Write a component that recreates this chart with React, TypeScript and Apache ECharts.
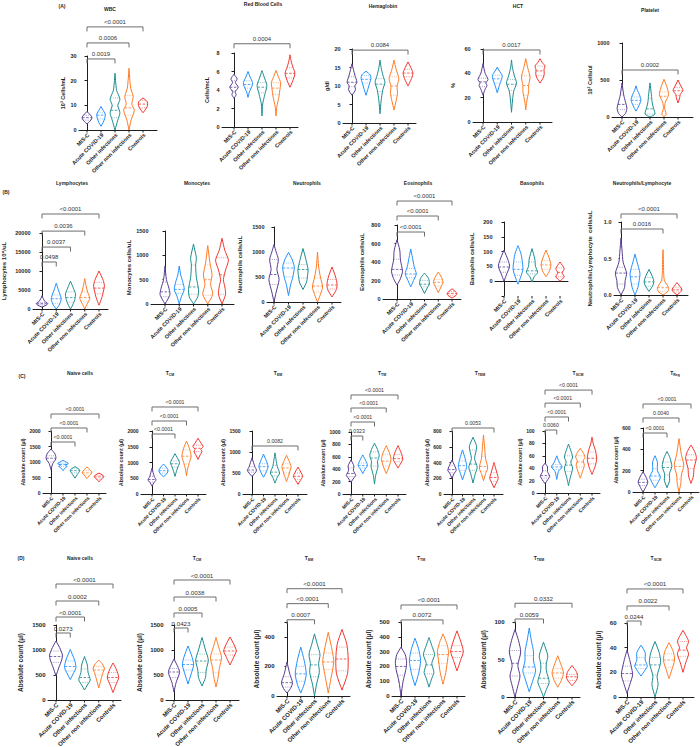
import React, { useEffect, useRef } from 'react';
import * as echarts from 'echarts';

const GROUPS = ['MIS-C', 'Acute COVID-19', 'Other infections', 'Other non infections', 'Controls'];
const COLORS = ['#563a90', '#1f8fff', '#1b8c8f', '#ff7a22', '#f4332c'];
const FONT = 'Liberation Sans, Arial, sans-serif';

// ---------- Panel A ----------
const wbcShapes = [
  [[2.5, 0], [3.5, 0.2], [4.5, 0.33], [5.2, 0.35], [6, 0.25], [7.5, 0]],
  [[1.5, 0], [3, 0.15], [5, 0.28], [6.5, 0.3], [8, 0.15], [9.5, 0]],
  [[0, 0], [4, 0.2], [7, 0.35], [10, 0.2], [12.5, 0.35], [16, 0.12], [20, 0.04], [23, 0]],
  [[0, 0], [4, 0.15], [8, 0.38], [10.5, 0.2], [13.5, 0.3], [17, 0.12], [21, 0.05], [25, 0]],
  [[7, 0], [8.5, 0.2], [10, 0.33], [11.5, 0.3], [13, 0]],
];
const wbcQuart = [[4, 5, 6], [4.5, 6, 7], [5, 8, 13], [6, 9, 14], [9, 10.5, 12]];
const wbcTests = [[0, 2, '0.0019', 28.8], [0, 3, '0.0006', 35.3], [0, 4, '<0.0001', 41.8]];

const rbcShapes = [
  [[3.1, 0], [3.5, 0.15], [3.8, 0.08], [4.3, 0.3], [4.8, 0.1], [5.2, 0.22], [5.7, 0]],
  [[3.2, 0], [3.8, 0.1], [4.4, 0.28], [4.8, 0.33], [5.4, 0.15], [6, 0]],
  [[1.2, 0], [2.5, 0.05], [3.5, 0.2], [4.5, 0.35], [5.2, 0.2], [6.1, 0]],
  [[1.2, 0], [2.2, 0.06], [3.2, 0.2], [4.3, 0.3], [4.8, 0.33], [5.5, 0.15], [6.1, 0]],
  [[4.3, 0], [5, 0.2], [5.8, 0.35], [6.5, 0.2], [7, 0.1], [7.8, 0]],
];
const rbcQuart = [[3.9, 4.3, 5], [4.2, 4.6, 5], [3.7, 4.3, 4.8], [3.5, 4.2, 4.8], [5.3, 5.8, 6.4]];
const rbcTests = [[0, 4, '0.0004', 9.0]];

const hgbShapes = [
  [[7.5, 0], [9, 0.25], [10, 0.2], [11, 0.35], [13, 0.2], [16, 0]],
  [[7.5, 0], [9, 0.12], [11, 0.28], [12, 0.35], [13, 0.3], [14, 0]],
  [[2.5, 0], [6, 0.08], [9, 0.2], [11, 0.35], [13, 0.2], [15, 0.08], [17, 0]],
  [[3.5, 0], [6, 0.15], [8, 0.25], [10, 0.22], [12, 0.35], [14.5, 0.15], [17, 0]],
  [[10, 0], [12, 0.25], [13.5, 0.35], [15, 0.2], [16.5, 0]],
];
const hgbQuart = [[9.8, 11, 12.5], [10.8, 11.8, 12.8], [8.5, 10.5, 12], [7.5, 10, 12.5], [12.5, 13.5, 14.5]];
const hgbTests = [[0, 4, '0.0084', 19.7]];

const hctShapes = [
  [[22, 0], [27, 0.15], [30, 0.28], [32, 0.2], [35, 0.35], [40, 0.15], [48, 0]],
  [[24, 0], [30, 0.15], [35, 0.3], [38, 0.35], [42, 0.15], [45, 0]],
  [[8, 0], [15, 0.05], [25, 0.15], [32, 0.35], [38, 0.2], [45, 0.06], [51, 0]],
  [[10, 0], [17, 0.07], [25, 0.2], [30, 0.2], [37, 0.3], [44, 0.15], [52, 0]],
  [[32, 0], [37, 0.25], [40, 0.3], [43, 0.28], [46, 0.35], [49, 0.15], [52, 0]],
];
const hctQuart = [[29, 33, 36], [32, 35.5, 38.5], [26, 31, 35], [22, 30, 38], [38, 42, 46]];
const hctTests = [[0, 4, '0.0017', 59.2]];

const pltShapes = [
  [[0, 0], [50, 0.25], [120, 0.35], [200, 0.25], [300, 0.12], [460, 0]],
  [[80, 0], [150, 0.2], [230, 0.35], [300, 0.25], [360, 0.1], [420, 0]],
  [[0, 0], [40, 0.35], [120, 0.25], [200, 0.15], [300, 0.1], [460, 0]],
  [[0, 0], [40, 0.15], [120, 0.04], [200, 0.1], [300, 0.33], [380, 0.25], [510, 0]],
  [[190, 0], [260, 0.12], [300, 0.15], [360, 0.35], [420, 0.2], [500, 0]],
];
const pltQuart = [[100, 170, 300], [170, 225, 270], [40, 110, 250], [80, 280, 340], [290, 355, 400]];
const pltTests = [[0, 4, '0.0002', 635]];

// ---------- Panel B ----------
const lymShapes = [
  [[500, 0], [1000, 0.3], [1500, 0.4], [2000, 0.2], [2800, 0.08], [3500, 0]],
  [[0, 0], [1000, 0.2], [2500, 0.35], [3500, 0.3], [5000, 0.15], [6800, 0]],
  [[0, 0], [1000, 0.15], [2500, 0.3], [4000, 0.35], [5500, 0.2], [7300, 0]],
  [[0, 0], [1200, 0.15], [2800, 0.35], [4500, 0.2], [6000, 0.1], [8000, 0]],
  [[1000, 0], [3000, 0.2], [4500, 0.3], [6000, 0.38], [7500, 0.3], [10000, 0]],
];
const lymQuart = [[1100, 1400, 1700], [1500, 2700, 3700], [1800, 3000, 4500], [2000, 3000, 4500], [4000, 5500, 7000]];
const lymTests = [[0, 1, '0.0498', 12370], [0, 2, '0.0037', 16300], [0, 3, '0.0036', 20500], [0, 4, '<0.0001', 25000]];

const monoShapes = [
  [[0, 0], [100, 0.2], [200, 0.35], [350, 0.25], [500, 0.1], [780, 0]],
  [[0, 0], [150, 0.15], [300, 0.35], [450, 0.25], [600, 0.1], [780, 0]],
  [[0, 0], [150, 0.3], [300, 0.35], [550, 0.2], [800, 0.15], [950, 0.2], [1230, 0]],
  [[0, 0], [200, 0.35], [400, 0.2], [600, 0.3], [850, 0.15], [1200, 0]],
  [[0, 0], [200, 0.25], [350, 0.2], [500, 0.1], [700, 0.25], [900, 0.45], [1100, 0.2], [1350, 0]],
];
const monoQuart = [[150, 250, 450], [220, 300, 400], [200, 350, 800], [180, 500, 800], [200, 600, 950]];
const monoTests: any[] = [];

const neutShapes = [
  [[0, 0], [200, 0.15], [450, 0.35], [650, 0.2], [850, 0.3], [1000, 0.15], [1150, 0]],
  [[130, 0], [350, 0.15], [500, 0.3], [700, 0.4], [850, 0.25], [990, 0]],
  [[250, 0], [400, 0.25], [500, 0.3], [650, 0.35], [850, 0.2], [1070, 0]],
  [[0, 0], [150, 0.2], [300, 0.35], [500, 0.2], [700, 0.08], [1000, 0]],
  [[100, 0], [250, 0.3], [350, 0.35], [500, 0.25], [700, 0]],
];
const neutQuart = [[350, 550, 850], [500, 680, 780], [480, 650, 750], [200, 320, 480], [260, 340, 450]];
const neutTests: any[] = [];

const eosShapes = [
  [[150, 0], [220, 0.25], [300, 0.4], [420, 0.25], [530, 0.2], [640, 0]],
  [[130, 0], [200, 0.2], [270, 0.4], [350, 0.25], [450, 0.12], [540, 0]],
  [[60, 0], [120, 0.2], [160, 0.35], [220, 0.3], [280, 0]],
  [[70, 0], [130, 0.2], [180, 0.35], [230, 0.25], [290, 0]],
  [[10, 0], [40, 0.3], [60, 0.35], [80, 0.25], [110, 0]],
];
const eosQuart = [[260, 320, 430], [230, 270, 330], [130, 160, 200], [140, 180, 210], [40, 60, 80]];
const eosTests = [[0, 2, '<0.0001', 724], [0, 3, '<0.0001', 897], [0, 4, '<0.0001', 1059]];

const basoShapes = [
  [[0, 0], [25, 0.2], [50, 0.4], [70, 0.3], [105, 0]],
  [[-10, 0], [15, 0.2], [40, 0.35], [70, 0.3], [95, 0.2], [120, 0]],
  [[-3, 0], [15, 0.15], [30, 0.4], [50, 0.25], [75, 0.2], [110, 0]],
  [[15, 0], [35, 0.25], [55, 0.35], [75, 0.25], [105, 0]],
  [[0, 0], [15, 0.3], [28, 0.15], [42, 0.3], [65, 0]],
];
const basoQuart = [[30, 48, 65], [20, 40, 65], [25, 35, 65], [40, 55, 70], [15, 30, 45]];
const basoTests: any[] = [];

const nlShapes = [
  [[0, 0], [0.1, 0.25], [0.2, 0.3], [0.3, 0.4], [0.45, 0.15], [0.6, 0.08], [0.78, 0]],
  [[0, 0], [0.1, 0.2], [0.2, 0.3], [0.3, 0.35], [0.45, 0.15], [0.56, 0]],
  [[0.05, 0], [0.12, 0.25], [0.18, 0.35], [0.25, 0.25], [0.35, 0]],
  [[0, 0], [0.05, 0.35], [0.1, 0.4], [0.2, 0.1], [0.3, 0.05], [0.45, 0.03], [0.62, 0]],
  [[0, 0], [0.05, 0.3], [0.08, 0.35], [0.12, 0.2], [0.17, 0]],
];
const nlQuart = [[0.15, 0.3, 0.38], [0.15, 0.25, 0.35], [0.12, 0.18, 0.24], [0.05, 0.1, 0.2], [0.04, 0.07, 0.1]];
const nlTests = [[0, 3, '0.0016', 0.904], [0, 4, '<0.0001', 1.11]];

// ---------- Panel C ----------
const cNaiveShapes = [
  [[750, 0], [950, 0.15], [1100, 0.4], [1250, 0.35], [1420, 0]],
  [[720, 0], [800, 0.15], [860, 0.35], [900, 0.2], [950, 0.45], [1050, 0]],
  [[480, 0], [600, 0.2], [720, 0.4], [780, 0.3], [850, 0]],
  [[470, 0], [560, 0.2], [650, 0.4], [750, 0.25], [840, 0]],
  [[360, 0], [450, 0.2], [520, 0.4], [580, 0.3], [640, 0]],
];
const cNaiveQuart = [[1000, 1120, 1200], [860, 920, 960], [650, 720, 780], [580, 650, 720], [450, 520, 570]];
const cNaiveTests = [[0, 2, '<0.0001', 1645], [0, 3, '<0.0001', 2097], [0, 4, '<0.0001', 2548]];

const cTcmShapes = [
  [[250, 0], [350, 0.15], [450, 0.35], [550, 0.2], [820, 0]],
  [[550, 0], [650, 0.3], [750, 0.4], [850, 0.25], [950, 0]],
  [[560, 0], [750, 0.15], [900, 0.3], [1000, 0.4], [1150, 0.2], [1280, 0]],
  [[580, 0], [800, 0.1], [1000, 0.25], [1200, 0.4], [1450, 0.25], [1680, 0]],
  [[1100, 0], [1250, 0.2], [1350, 0.35], [1420, 0.25], [1500, 0.45], [1620, 0.25], [1770, 0]],
];
const cTcmQuart = [[380, 460, 560], [660, 740, 820], [850, 960, 1050], [950, 1200, 1400], [1350, 1450, 1550]];
const cTcmTests = [[0, 2, '<0.0001', 1905], [0, 3, '<0.0001', 2317], [0, 4, '<0.0001', 2762]];

const cTemShapes = [
  [[420, 0], [480, 0.2], [560, 0.4], [650, 0.25], [860, 0]],
  [[400, 0], [500, 0.2], [650, 0.4], [750, 0.3], [950, 0]],
  [[260, 0], [400, 0.2], [500, 0.4], [650, 0.2], [800, 0.1], [980, 0]],
  [[300, 0], [450, 0.2], [550, 0.3], [650, 0.4], [800, 0.2], [920, 0]],
  [[230, 0], [320, 0.2], [420, 0.4], [520, 0.25], [640, 0]],
];
const cTemQuart = [[520, 570, 650], [550, 650, 720], [430, 520, 680], [500, 620, 720], [350, 420, 500]];
const cTemTests = [[0, 4, '0.0082', 1143]];

const cTtmShapes = [
  [[190, 0], [260, 0.25], [300, 0.4], [380, 0.2], [450, 0.25], [550, 0]],
  [[330, 0], [400, 0.2], [460, 0.4], [520, 0.3], [630, 0]],
  [[160, 0], [300, 0.1], [450, 0.3], [520, 0.25], [620, 0.4], [720, 0.25], [820, 0]],
  [[330, 0], [420, 0.2], [550, 0.4], [650, 0.3], [780, 0]],
  [[420, 0], [500, 0.25], [560, 0.4], [650, 0.3], [780, 0]],
];
const cTtmQuart = [[280, 330, 420], [420, 460, 500], [450, 580, 680], [450, 530, 640], [520, 570, 640]];
const cTtmTests = [[0, 1, '0.0323', 935], [0, 2, '<0.0001', 1161], [0, 3, '<0.0001', 1387], [0, 4, '<0.0001', 1597]];

const cTtemShapes = [
  [[200, 0], [260, 0.2], [300, 0.4], [360, 0.25], [430, 0]],
  [[180, 0], [280, 0.25], [350, 0.4], [450, 0.25], [560, 0]],
  [[140, 0], [250, 0.2], [340, 0.4], [450, 0.15], [600, 0.35], [720, 0]],
  [[170, 0], [260, 0.2], [330, 0.4], [450, 0.2], [600, 0.1], [750, 0]],
  [[80, 0], [150, 0.25], [200, 0.4], [280, 0.25], [400, 0]],
];
const cTtemQuart = [[270, 310, 360], [300, 360, 420], [300, 380, 560], [290, 350, 480], [160, 210, 270]];
const cTtemTests = [[0, 4, '0.0053', 838]];

const cTscmShapes = [
  [[15, 0], [22, 0.25], [27, 0.4], [35, 0.2], [42, 0.22], [48, 0]],
  [[22, 0], [35, 0.15], [42, 0.45], [50, 0.2], [60, 0]],
  [[12, 0], [25, 0.15], [40, 0.35], [50, 0.2], [58, 0.35], [68, 0.2], [79, 0]],
  [[24, 0], [35, 0.2], [45, 0.35], [52, 0.25], [58, 0.4], [65, 0.25], [72, 0]],
  [[30, 0], [42, 0.25], [55, 0.4], [68, 0.3], [80, 0.1], [90, 0]],
];
const cTscmQuart = [[24, 28, 36], [38, 42, 46], [35, 45, 60], [42, 50, 60], [47, 56, 66]];
const cTscmTests = [[0, 1, '0.0060', 101.6], [0, 2, '<0.0001', 122.6], [0, 3, '<0.0001', 145], [0, 4, '<0.0001', 166]];

const cTregShapes = [
  [[0, 0], [40, 0.2], [90, 0.4], [140, 0.25], [190, 0]],
  [[40, 0], [100, 0.3], [140, 0.45], [200, 0.2], [280, 0.2], [340, 0]],
  [[40, 0], [110, 0.22], [170, 0.2], [240, 0.4], [320, 0.25], [380, 0]],
  [[0, 0], [80, 0.15], [160, 0.2], [250, 0.4], [350, 0.2], [500, 0]],
  [[80, 0], [150, 0.2], [220, 0.25], [320, 0.45], [380, 0.3], [440, 0]],
];
const cTregQuart = [[60, 90, 120], [110, 150, 220], [160, 230, 280], [120, 240, 300], [220, 300, 350]];
const cTregTests = [[0, 2, '<0.0001', 553], [0, 3, '0.0040', 694], [0, 4, '<0.0001', 825]];

// ---------- Panel D ----------
const dNaiveShapes = [
  [[480, 0], [650, 0.2], [800, 0.4], [900, 0.45], [1050, 0.25], [1180, 0]],
  [[410, 0], [520, 0.2], [650, 0.4], [800, 0.3], [1010, 0]],
  [[200, 0], [300, 0.2], [400, 0.4], [550, 0.25], [700, 0.2], [870, 0]],
  [[240, 0], [400, 0.15], [550, 0.3], [620, 0.4], [700, 0.3], [800, 0]],
  [[150, 0], [300, 0.2], [450, 0.4], [600, 0.25], [740, 0]],
];
const dNaiveQuart = [[750, 870, 980], [580, 670, 780], [350, 450, 620], [500, 600, 670], [350, 450, 550]];
const dNaiveTests = [[0, 1, '0.0273', 1340], [0, 2, '<0.0001', 1660], [0, 3, '0.0002', 1980], [0, 4, '<0.0001', 2320]];

const dTcmShapes = [
  [[160, 0], [350, 0.15], [550, 0.4], [650, 0.3], [820, 0]],
  [[320, 0], [500, 0.2], [700, 0.4], [850, 0.3], [1080, 0]],
  [[280, 0], [450, 0.25], [600, 0.3], [800, 0.45], [1000, 0.25], [1250, 0]],
  [[260, 0], [450, 0.15], [650, 0.25], [850, 0.4], [1050, 0.2], [1250, 0]],
  [[700, 0], [850, 0.25], [980, 0.45], [1100, 0.3], [1260, 0]],
];
const dTcmQuart = [[450, 560, 630], [600, 710, 800], [550, 780, 920], [550, 800, 920], [900, 980, 1060]];
const dTcmTests = [[0, 1, '0.0423', 1440], [0, 2, '0.0005', 1740], [0, 3, '0.0038', 2060], [0, 4, '<0.0001', 2400]];

const dTemShapes = [
  [[20, 0], [50, 0.25], [90, 0.4], [150, 0.2], [230, 0]],
  [[20, 0], [80, 0.25], [150, 0.4], [240, 0.25], [330, 0]],
  [[0, 0], [80, 0.15], [160, 0.35], [220, 0.3], [280, 0.4], [350, 0.2], [420, 0]],
  [[20, 0], [120, 0.2], [230, 0.4], [300, 0.3], [430, 0]],
  [[40, 0], [150, 0.4], [250, 0.45], [350, 0.35], [450, 0]],
];
const dTemQuart = [[60, 90, 130], [100, 150, 200], [130, 210, 280], [180, 230, 290], [170, 250, 330]];
const dTemTests = [[0, 2, '0.0007', 515], [0, 3, '<0.0001', 624], [0, 4, '<0.0001', 725]];

const dTtmShapes = [
  [[0, 0], [100, 0.15], [180, 0.35], [230, 0.4], [280, 0.3], [330, 0]],
  [[70, 0], [150, 0.25], [240, 0.4], [320, 0.25], [390, 0]],
  [[60, 0], [120, 0.2], [160, 0.35], [220, 0.2], [280, 0.4], [340, 0.2], [395, 0]],
  [[80, 0], [160, 0.2], [260, 0.35], [300, 0.4], [360, 0.25], [420, 0]],
  [[170, 0], [240, 0.25], [300, 0.45], [360, 0.3], [440, 0]],
];
const dTtmQuart = [[140, 200, 250], [180, 240, 290], [150, 210, 280], [220, 280, 340], [260, 300, 340]];
const dTtmTests = [[0, 3, '0.0072', 514], [0, 4, '<0.0001', 615]];

const dTtemShapes = [
  [[0, 0], [15, 0.2], [28, 0.35], [42, 0.2], [60, 0.4], [75, 0.25], [90, 0]],
  [[7, 0], [25, 0.3], [35, 0.45], [48, 0.3], [60, 0.3], [75, 0.15], [92, 0]],
  [[0, 0], [10, 0.2], [20, 0.4], [35, 0.2], [45, 0.2], [55, 0.3], [73, 0]],
  [[13, 0], [22, 0.25], [32, 0.4], [42, 0.25], [55, 0]],
  [[15, 0], [22, 0.3], [27, 0.4], [34, 0.3], [42, 0]],
];
const dTtemQuart = [[28, 45, 62], [32, 40, 55], [18, 25, 45], [25, 32, 38], [22, 27, 30]];
const dTtemTests = [[0, 2, '0.0059', 104], [0, 4, '0.0332', 125]];

const dTscmShapes = [
  [[3, 0], [10, 0.2], [18, 0.4], [25, 0.3], [32, 0.15], [38, 0]],
  [[17, 0], [22, 0.3], [25, 0.45], [30, 0.3], [36, 0.3], [42, 0]],
  [[0, 0], [10, 0.22], [17, 0.15], [28, 0.4], [36, 0.3], [45, 0]],
  [[15, 0], [22, 0.2], [30, 0.4], [37, 0.3], [44, 0]],
  [[20, 0], [28, 0.2], [35, 0.4], [40, 0.25], [45, 0.4], [50, 0.2], [54, 0]],
];
const dTscmQuart = [[13, 19, 25], [23, 26, 32], [18, 26, 32], [24, 30, 35], [33, 38, 45]];
const dTscmTests = [[0, 1, '0.0244', 61.6], [0, 3, '0.0022', 73.8], [0, 4, '<0.0001', 87.6]];

// ---------- Panel definitions ----------
const ABS = 'Absolute count (µl)';
const PANELS = [
  { key: 'wbc', row: 'A', title: 'WBC', yName: '10³ Cells/mL', min: 0, max: 30, interval: 10, shapes: wbcShapes, quart: wbcQuart, tests: wbcTests },
  { key: 'rbc', row: 'A', title: 'Red Blood Cells', yName: 'Cells/mcL', min: 0, max: 8, interval: 2, shapes: rbcShapes, quart: rbcQuart, tests: rbcTests },
  { key: 'hgb', row: 'A', title: 'Hemaglobin', yName: 'g/dl', min: 0, max: 20, interval: 5, shapes: hgbShapes, quart: hgbQuart, tests: hgbTests },
  { key: 'hct', row: 'A', title: 'HCT', yName: '%', min: 0, max: 60, interval: 20, shapes: hctShapes, quart: hctQuart, tests: hctTests },
  { key: 'plt', row: 'A', title: 'Platelet', yName: '10³ Cells/ul', min: 0, max: 1000, interval: 500, shapes: pltShapes, quart: pltQuart, tests: pltTests },
  { key: 'lym', row: 'B', title: 'Lymphocytes', yName: 'Lymphocytes 10⁶/uL', min: 0, max: 20000, interval: 5000, shapes: lymShapes, quart: lymQuart, tests: lymTests },
  { key: 'mono', row: 'B', title: 'Monocytes', yName: 'Monocytes cells/uL', min: 0, max: 1500, interval: 500, shapes: monoShapes, quart: monoQuart, tests: monoTests },
  { key: 'neut', row: 'B', title: 'Neutrophils', yName: 'Neutrophils cells/uL', min: 0, max: 1500, interval: 500, shapes: neutShapes, quart: neutQuart, tests: neutTests },
  { key: 'eos', row: 'B', title: 'Eosinophils', yName: 'Eosinophils cells/uL', min: 0, max: 800, interval: 200, shapes: eosShapes, quart: eosQuart, tests: eosTests },
  { key: 'baso', row: 'B', title: 'Basophils', yName: 'Basophils cells/uL', min: -50, max: 200, interval: 50, shapes: basoShapes, quart: basoQuart, tests: basoTests },
  { key: 'nl', row: 'B', title: 'Neutrophils/Lymphocyte', yName: 'Neutrophils/Lymphocyte  cells/uL', min: 0, max: 1, interval: 0.5, shapes: nlShapes, quart: nlQuart, tests: nlTests },
  { key: 'cNaive', row: 'C', title: 'Naive cells', yName: ABS, min: 0, max: 2000, interval: 500, shapes: cNaiveShapes, quart: cNaiveQuart, tests: cNaiveTests },
  { key: 'cTcm', row: 'C', title: 'T|CM', yName: ABS, min: 0, max: 2000, interval: 500, shapes: cTcmShapes, quart: cTcmQuart, tests: cTcmTests },
  { key: 'cTem', row: 'C', title: 'T|EM', yName: ABS, min: 0, max: 1500, interval: 500, shapes: cTemShapes, quart: cTemQuart, tests: cTemTests },
  { key: 'cTtm', row: 'C', title: 'T|TM', yName: ABS, min: 0, max: 1000, interval: 200, shapes: cTtmShapes, quart: cTtmQuart, tests: cTtmTests },
  { key: 'cTtem', row: 'C', title: 'T|TEM', yName: ABS, min: 0, max: 800, interval: 200, shapes: cTtemShapes, quart: cTtemQuart, tests: cTtemTests },
  { key: 'cTscm', row: 'C', title: 'T|SCM', yName: ABS, min: 0, max: 100, interval: 20, shapes: cTscmShapes, quart: cTscmQuart, tests: cTscmTests },
  { key: 'cTreg', row: 'C', title: 'T|Reg', yName: ABS, min: 0, max: 600, interval: 200, shapes: cTregShapes, quart: cTregQuart, tests: cTregTests },
  { key: 'dNaive', row: 'D', title: 'Naive cells', yName: ABS, min: 0, max: 1500, interval: 500, shapes: dNaiveShapes, quart: dNaiveQuart, tests: dNaiveTests },
  { key: 'dTcm', row: 'D', title: 'T|CM', yName: ABS, min: 0, max: 1500, interval: 500, shapes: dTcmShapes, quart: dTcmQuart, tests: dTcmTests },
  { key: 'dTem', row: 'D', title: 'T|EM', yName: ABS, min: 0, max: 500, interval: 200, shapes: dTemShapes, quart: dTemQuart, tests: dTemTests },
  { key: 'dTtm', row: 'D', title: 'T|TM', yName: ABS, min: 0, max: 500, interval: 100, shapes: dTtmShapes, quart: dTtmQuart, tests: dTtmTests },
  { key: 'dTtem', row: 'D', title: 'T|TEM', yName: ABS, min: 0, max: 100, interval: 50, shapes: dTtemShapes, quart: dTtemQuart, tests: dTtemTests },
  { key: 'dTscm', row: 'D', title: 'T|SCM', yName: ABS, min: 0, max: 60, interval: 20, shapes: dTscmShapes, quart: dTscmQuart, tests: dTscmTests },
];

// layout: axisX, firstViolinX, lastViolinX, axisEndX, topY, bottomY, titleX, titleY, nameGap
const LAYOUT: Record<string, number[]> = {
  wbc: [79, 87, 143, 157, 56, 130, 110, 9, 13],
  rbc: [222, 234, 290, 298, 53, 127, 263, 4, 12],
  hgb: [343, 352, 408, 416, 49, 123, 383, 6, 8],
  hct: [473, 483, 540, 552, 49, 122, 518, 6, 17],
  plt: [612, 622, 678, 693, 43, 117, 650, 10, 17],
  lym: [33, 42, 99, 108, 233, 309, 72, 183, 26],
  mono: [151, 165, 222, 234, 231, 304, 197, 183, 15],
  neut: [267, 274, 332, 341, 227, 302, 307, 183, 24],
  eos: [383, 397, 452, 461, 225, 299, 418, 183, 18],
  baso: [495, 504, 560, 568, 222, 296, 532, 183, 20],
  nl: [614, 621, 677, 688, 222, 295, 642, 183, 21],
  cNaive: [43, 51, 99, 106, 431, 493, 80, 373, 18],
  cTcm: [141, 152, 198, 206, 431, 494, 170, 373, 14],
  cTem: [243, 252, 298, 307, 431, 494, 278, 373, 15],
  cTtm: [343, 351, 398, 406, 432, 494, 382, 373, 16],
  cTtem: [444, 452, 494, 503, 431, 494, 480, 373, 15],
  cTscm: [537, 545, 592, 600, 431, 493, 578, 373, 15],
  cTreg: [633, 643, 691, 699, 428, 492, 675, 373, 15],
  dNaive: [48, 56, 113, 121, 625, 700, 80, 558, 24],
  dTcm: [166, 174, 230, 239, 625, 700, 197, 558, 23],
  dTem: [277, 287, 342, 350, 622, 696, 309, 558, 17],
  dTtm: [392, 401, 457, 465, 622, 696, 421, 558, 20],
  dTtem: [507, 515, 572, 580, 622, 697, 539, 558, 20],
  dTscm: [619, 627, 683, 694, 623, 697, 656, 558, 17],
};

const ROW_STYLE: Record<string, any> = {
  A: { tick: 5.5, name: 5.5, p: 6, x: 5.5, title: 5 },
  B: { tick: 5.5, name: 6, p: 6, x: 5.5, title: 5 },
  C: { tick: 5, name: 5.2, p: 5.2, x: 5, title: 5 },
  D: { tick: 6, name: 6.5, p: 6.2, x: 6, title: 5 },
};

const ROW_LETTERS = [['(A)', 62, 6], ['(B)', 6, 192], ['(C)', 22, 376], ['(D)', 21, 558]];

function widthAt(prof: number[][], v: number) {
  for (let i = 0; i < prof.length - 1; i++) {
    const [a, wa] = prof[i];
    const [b, wb] = prof[i + 1];
    if (v >= a && v <= b) return wa + ((wb - wa) * (v - a)) / (b - a || 1);
  }
  return 0;
}

function buildOption() {
  const option: any = {
    animation: false,
    backgroundColor: '#ffffff',
    grid: [],
    xAxis: [],
    yAxis: [],
    series: [],
    graphic: [],
  };
  const axisColor = '#1e1e1e';
  PANELS.forEach((p, i) => {
    const [ax, x0, x4, end, top, bottom, tx, ty, gap] = LAYOUT[p.key];
    const rs = ROW_STYLE[p.row];
    const d = (x4 - x0) / 4;
    option.grid.push({ left: ax, top, width: end - ax, height: bottom - top });
    option.xAxis.push({
      type: 'value', gridIndex: i, min: -(x0 - ax) / d, max: (end - x0) / d,
      axisLine: { show: true, lineStyle: { color: axisColor, width: 1 } },
      axisTick: { show: false }, axisLabel: { show: false }, splitLine: { show: false },
    });
    const topVal = p.max;
    option.yAxis.push({
      type: 'value', gridIndex: i, min: p.min, max: p.max, interval: p.interval,
      axisLine: { show: true, lineStyle: { color: axisColor, width: 1 } },
      axisTick: { show: true, length: 2.5, lineStyle: { color: axisColor, width: 1 } },
      splitLine: { show: false },
      axisLabel: {
        fontSize: rs.tick, fontWeight: 'bold', color: axisColor, margin: 2.5, fontFamily: FONT,
        formatter: (v: number) => {
          if (v < 0) return '';
          if ((v - p.min) % p.interval !== 0 && v === topVal) return '';
          return p.key === 'nl' ? v.toFixed(1) : String(v);
        },
      },
      name: p.yName, nameLocation: 'middle', nameGap: gap, nameRotate: 90,
      nameTextStyle: { fontSize: rs.name, fontWeight: 'bold', color: axisColor, fontFamily: FONT },
    });

    // violins
    option.series.push({
      type: 'custom', xAxisIndex: i, yAxisIndex: i, clip: false, silent: true,
      data: p.shapes.map((_: any, k: number) => [k, p.quart[k][1]]),
      renderItem: (params: any, api: any) => {
        const k = params.dataIndex;
        const prof = p.shapes[k];
        const color = COLORS[k];
        const cx = api.coord([k, p.min])[0];
        const by = api.coord([k, p.min])[1];
        const dpx = api.size([1, 0])[0];
        const right = prof.map(([v, w]: number[]) => [cx + w * dpx, api.coord([k, v])[1]]);
        const left = prof.slice().reverse().map(([v, w]: number[]) => [cx - w * dpx, api.coord([k, v])[1]]);
        const children: any[] = [
          {
            type: 'polygon', shape: { points: right.concat(left), smooth: 0.25 },
            style: { fill: '#ffffff', stroke: color, lineWidth: 1 },
          },
        ];
        p.quart[k].forEach((q: number, qi: number) => {
          const w = widthAt(prof, q) * dpx;
          const y = api.coord([k, q])[1];
          children.push({
            type: 'line', shape: { x1: cx - w, y1: y, x2: cx + w, y2: y },
            style: { stroke: color, lineWidth: qi === 1 ? 0.9 : 0.6, lineDash: qi === 1 ? [2.5, 1.5] : [1, 1.2], opacity: 0.85 },
          });
        });
        children.push({ type: 'line', shape: { x1: cx, y1: by, x2: cx, y2: by + 2.5 }, style: { stroke: axisColor, lineWidth: 1 } });
        children.push({
          type: 'text', x: cx + 1.5, y: by + 4, rotation: Math.PI / 4,
          style: { text: GROUPS[k], align: 'right', verticalAlign: 'middle', fontSize: rs.x, fontWeight: 'bold', fill: axisColor, fontFamily: FONT },
        });
        return { type: 'group', children };
      },
    });

    // significance brackets
    if (p.tests.length) {
      option.series.push({
        type: 'custom', xAxisIndex: i, yAxisIndex: i, clip: false, silent: true,
        data: p.tests.map((t: any) => [t[0], t[3]]),
        renderItem: (params: any, api: any) => {
          const t = p.tests[params.dataIndex];
          const [x1, y] = api.coord([t[0], t[3]]);
          const x2 = api.coord([t[1], t[3]])[0];
          return {
            type: 'group',
            children: [
              { type: 'polyline', shape: { points: [[x1, y + 4.5], [x1, y], [x2, y], [x2, y + 4.5]] }, style: { stroke: '#6e6e6e', lineWidth: 1, fill: null } },
              { type: 'text', x: (x1 + x2) / 2, y: y - 5, style: { text: t[2], align: 'center', verticalAlign: 'middle', fontSize: rs.p, fill: '#333333', fontFamily: FONT } },
            ],
          };
        },
      });
    }

    // title
    const parts = p.title.split('|');
    const text = parts.length > 1 ? `{a|${parts[0]}}{b|${parts[1]}}` : `{a|${parts[0]}}`;
    option.graphic.push({
      type: 'text', x: tx, y: ty,
      style: {
        text, align: 'center', verticalAlign: 'middle', fontFamily: FONT,
        rich: {
          a: { fontSize: rs.title, fontWeight: 'bold', fill: axisColor, lineHeight: 8, verticalAlign: 'middle', fontFamily: FONT },
          b: { fontSize: rs.title * 0.7, fontWeight: 'bold', fill: axisColor, lineHeight: 8, verticalAlign: 'bottom', fontFamily: FONT },
        },
      },
    });
  });

  ROW_LETTERS.forEach(([t, x, y]) => {
    option.graphic.push({
      type: 'text', x, y,
      style: { text: t, align: 'center', verticalAlign: 'middle', fontSize: 5, fontWeight: 'bold', fill: '#1e1e1e', fontFamily: FONT },
    });
  });
  return option;
}

export default function App() {
  const ref = useRef<HTMLDivElement>(null);
  useEffect(() => {
    if (!ref.current) return;
    const chart = echarts.init(ref.current, undefined, { renderer: 'svg' });
    chart.setOption(buildOption());
    return () => chart.dispose();
  }, []);
  return <div ref={ref} style={{ position: 'fixed', left: 0, top: 0, width: 700, height: 747, background: '#fff' }} />;
}
